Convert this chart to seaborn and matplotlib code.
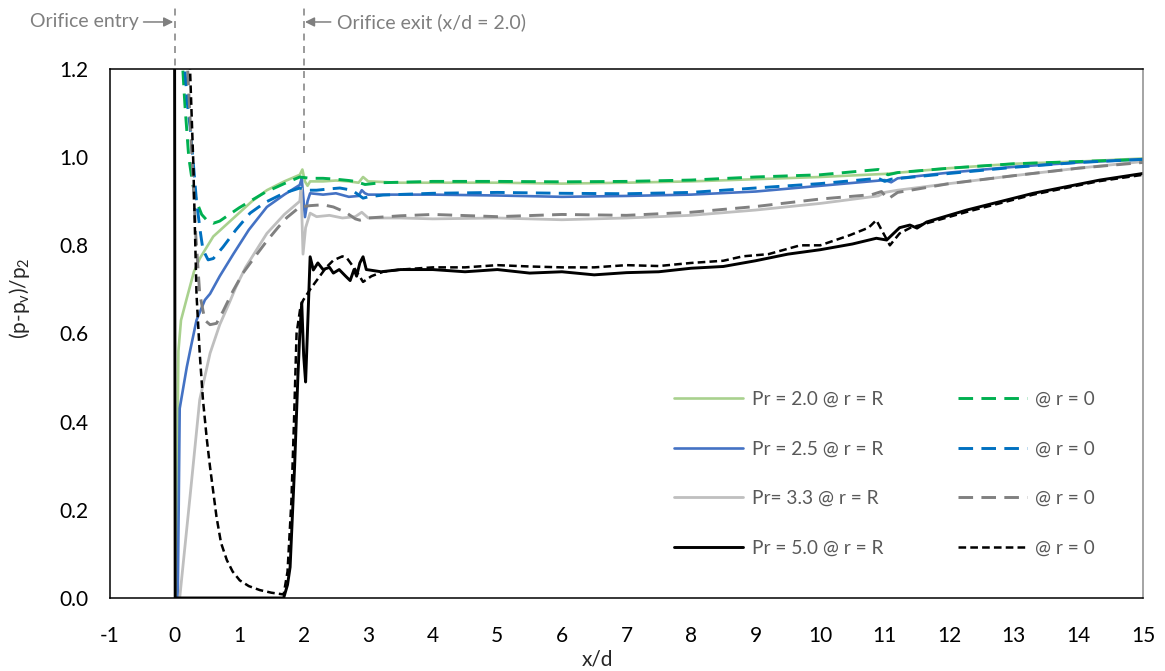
import matplotlib
matplotlib.use("Agg")
import matplotlib.pyplot as plt
import seaborn as sns

sns.set_style("white")
plt.rcParams['font.family'] = ['Lato', 'DejaVu Sans']
plt.rcParams['mathtext.default'] = 'regular'
plt.rcParams['lines.scale_dashes'] = False
plt.rcParams['axes.unicode_minus'] = False

# ---------------- data ----------------
x_g_R = [0.03, 0.05, 0.06, 0.1, 0.19, 0.3, 0.39, 0.6, 0.9, 1.2, 1.43, 1.7, 1.94, 1.98, 2.02, 2.06, 2.1, 2.3, 2.5, 2.7, 2.85, 2.92, 3.0, 3.5, 4, 5, 6, 7, 8, 9, 10, 11, 12, 13, 14, 15]
y_g_R = [0.0, 0.43, 0.56, 0.63, 0.68, 0.74, 0.77, 0.82, 0.86, 0.9, 0.925, 0.945, 0.96, 0.972, 0.945, 0.935, 0.945, 0.945, 0.947, 0.945, 0.942, 0.955, 0.945, 0.942, 0.942, 0.942, 0.94, 0.942, 0.945, 0.95, 0.955, 0.962, 0.975, 0.985, 0.99, 0.997]

x_g_0 = [0.09, 0.12, 0.16, 0.22, 0.28, 0.34, 0.42, 0.5, 0.6, 0.7, 0.85, 1.0, 1.17, 1.4, 1.7, 1.94, 2.1, 2.3, 2.5, 2.7, 2.8, 2.95, 3.2, 4, 5, 6, 7, 8, 9, 10, 10.9, 11.05, 11.2, 12, 13, 14, 15]
y_g_0 = [1.3, 1.22, 1.12, 1.0, 0.94, 0.9, 0.87, 0.857, 0.85, 0.855, 0.87, 0.885, 0.9, 0.92, 0.94, 0.955, 0.952, 0.952, 0.95, 0.947, 0.945, 0.938, 0.942, 0.945, 0.945, 0.944, 0.945, 0.948, 0.955, 0.96, 0.972, 0.96, 0.965, 0.975, 0.985, 0.99, 0.995]

x_b_R = [0.05, 0.08, 0.19, 0.24, 0.34, 0.47, 0.55, 0.7, 0.91, 1.15, 1.43, 1.7, 1.94, 1.97, 2.02, 2.06, 2.1, 2.3, 2.5, 2.7, 2.85, 2.9, 2.95, 3.0, 3.5, 4, 5, 6, 7, 8, 9, 10, 11, 11.1, 11.2, 12, 13, 14, 15]
y_b_R = [0.0, 0.43, 0.524, 0.56, 0.63, 0.676, 0.69, 0.73, 0.78, 0.835, 0.887, 0.915, 0.937, 0.952, 0.864, 0.9, 0.918, 0.915, 0.918, 0.91, 0.912, 0.925, 0.918, 0.915, 0.915, 0.915, 0.913, 0.91, 0.912, 0.915, 0.922, 0.935, 0.948, 0.943, 0.952, 0.965, 0.978, 0.988, 0.995]

x_b_0 = [0.13, 0.16, 0.2, 0.24, 0.3, 0.34, 0.4, 0.44, 0.52, 0.6, 0.75, 0.95, 1.17, 1.4, 1.69, 1.94, 2.05, 2.2, 2.4, 2.56, 2.75, 2.92, 3.0, 3.23, 4, 5, 6, 7, 8, 9, 10, 10.9, 11.0, 11.1, 12, 13, 14, 15]
y_b_0 = [1.35, 1.2, 1.12, 1.07, 0.97, 0.9, 0.83, 0.79, 0.767, 0.77, 0.796, 0.835, 0.873, 0.897, 0.918, 0.93, 0.925, 0.925, 0.928, 0.93, 0.925, 0.907, 0.91, 0.914, 0.918, 0.92, 0.918, 0.917, 0.92, 0.93, 0.94, 0.952, 0.945, 0.95, 0.963, 0.977, 0.988, 0.995]

x_s_R = [0.08, 0.24, 0.39, 0.55, 0.7, 0.85, 0.95, 1.1, 1.43, 1.7, 1.94, 1.96, 1.99, 2.03, 2.1, 2.2, 2.4, 2.6, 2.8, 2.9, 3.0, 3.5, 4, 5, 6, 7, 8, 9, 10, 10.9, 11.0, 11.2, 12, 13, 14, 15]
y_s_R = [0.0, 0.23, 0.45, 0.555, 0.62, 0.67, 0.705, 0.75, 0.827, 0.87, 0.9, 0.93, 0.78, 0.84, 0.873, 0.865, 0.868, 0.862, 0.865, 0.875, 0.862, 0.862, 0.86, 0.862, 0.858, 0.862, 0.868, 0.88, 0.895, 0.912, 0.92, 0.925, 0.94, 0.958, 0.975, 0.99]

x_s_0 = [0.17, 0.22, 0.28, 0.33, 0.39, 0.47, 0.55, 0.65, 0.75, 0.9, 1.06, 1.25, 1.43, 1.6, 1.74, 1.94, 2.1, 2.3, 2.46, 2.65, 2.8, 2.87, 3.0, 3.5, 4, 5, 6, 7, 8, 9, 10, 10.8, 10.95, 11.05, 11.2, 12, 13, 14, 15]
y_s_0 = [1.3, 1.15, 0.97, 0.82, 0.69, 0.63, 0.62, 0.623, 0.65, 0.695, 0.737, 0.775, 0.81, 0.84, 0.863, 0.887, 0.89, 0.892, 0.887, 0.875, 0.86, 0.857, 0.862, 0.867, 0.87, 0.865, 0.87, 0.868, 0.875, 0.888, 0.905, 0.915, 0.922, 0.905, 0.92, 0.94, 0.958, 0.975, 0.988]

x_k_R = [0.0, 0.01, 1.69, 1.75, 1.79, 1.86, 1.91, 1.94, 1.97, 2.0, 2.03, 2.07, 2.1, 2.15, 2.22, 2.3, 2.4, 2.46, 2.55, 2.65, 2.72, 2.78, 2.82, 2.87, 2.92, 2.97, 3.02, 3.2, 3.5, 4, 4.5, 5, 5.5, 6, 6.5, 7, 7.5, 8, 8.5, 9, 9.5, 10, 10.5, 10.87, 11.03, 11.23, 11.39, 11.5, 11.65, 12.27, 13.3, 14.33, 15]
y_k_R = [1.35, 0.0, 0.0, 0.03, 0.07, 0.3, 0.5, 0.6, 0.67, 0.55, 0.49, 0.65, 0.774, 0.744, 0.76, 0.745, 0.75, 0.737, 0.745, 0.73, 0.72, 0.745, 0.73, 0.76, 0.774, 0.745, 0.744, 0.74, 0.745, 0.745, 0.74, 0.745, 0.737, 0.74, 0.733, 0.738, 0.74, 0.748, 0.752, 0.765, 0.78, 0.79, 0.803, 0.816, 0.812, 0.84, 0.846, 0.839, 0.853, 0.88, 0.918, 0.948, 0.963]

x_k_0 = [0.2, 0.24, 0.29, 0.34, 0.39, 0.44, 0.5, 0.55, 0.65, 0.72, 0.81, 0.9, 1.01, 1.15, 1.32, 1.5, 1.69, 1.75, 1.81, 1.85, 1.89, 1.95, 1.99, 2.1, 2.2, 2.35, 2.46, 2.6, 2.67, 2.8, 2.92, 3.05, 3.23, 3.5, 4, 4.5, 5, 5.5, 6, 6.5, 7, 7.5, 8, 8.5, 8.8, 9.2, 9.69, 10, 10.46, 10.75, 10.87, 11.08, 11.23, 11.4, 11.65, 12.3, 13.3, 14.3, 15]
y_k_0 = [1.35, 1.2, 0.99, 0.69, 0.555, 0.45, 0.36, 0.297, 0.184, 0.125, 0.086, 0.06, 0.04, 0.027, 0.018, 0.012, 0.008, 0.06, 0.22, 0.4, 0.6, 0.66, 0.675, 0.7, 0.72, 0.75, 0.766, 0.775, 0.771, 0.745, 0.717, 0.73, 0.74, 0.745, 0.75, 0.75, 0.755, 0.752, 0.75, 0.75, 0.755, 0.753, 0.76, 0.765, 0.775, 0.78, 0.8, 0.8, 0.823, 0.84, 0.857, 0.8, 0.827, 0.84, 0.85, 0.877, 0.915, 0.945, 0.96]

labels_R = ["Pr = 2.0 @ r = R", "Pr = 2.5 @ r = R", "Pr= 3.3 @ r = R", "Pr = 5.0 @ r = R"]
label_0 = "@ r = 0"
x_ticks = list(range(-1, 16))
y_ticks = [0.0, 0.2, 0.4, 0.6, 0.8, 1.0, 1.2]

# ---------------- figure ----------------
fig = plt.figure(figsize=(11.65, 6.71), dpi=100)
ax = fig.add_axes([0.0944, 0.1088, 0.8867, 0.7884])

gray_txt = "#7F7F7F"
long_dash = (0, (10.5, 6))

solid = [(x_g_R, y_g_R, "#A9D18E", 1.9), (x_b_R, y_b_R, "#4472C4", 1.9),
         (x_s_R, y_s_R, "#BFBFBF", 2.0), (x_k_R, y_k_R, "#000000", 2.1)]
dashed = [(x_g_0, y_g_0, "#00B050", 2.1, long_dash), (x_b_0, y_b_0, "#0070C0", 2.1, long_dash),
          (x_s_0, y_s_0, "#808080", 2.1, long_dash), (x_k_0, y_k_0, "#000000", 1.8, (0, (5.5, 3)))]

for (xs, ys, c, lw), lab in zip(solid, labels_R):
    sns.lineplot(x=xs, y=ys, color=c, linewidth=lw, estimator=None, sort=False,
                 ax=ax, label=lab)
for xs, ys, c, lw, ls in dashed:
    sns.lineplot(x=xs, y=ys, color=c, linewidth=lw, linestyle=ls, estimator=None,
                 sort=False, ax=ax, label=label_0)

ax.set_xlim(-1, 15)
ax.set_ylim(0, 1.2)
ax.set_xticks(x_ticks)
ax.set_yticks(y_ticks)
ax.set_yticklabels([f"{v:.1f}" for v in y_ticks])
ax.tick_params(length=0, labelsize=15, colors="#000000")
ax.tick_params(axis="x", pad=20)
ax.tick_params(axis="y", pad=15.5)

for s in ["top", "left", "bottom"]:
    ax.spines[s].set_color("#000000")
    ax.spines[s].set_linewidth(1.1)
ax.spines["right"].set_color("#8C8C8C")
ax.spines["right"].set_linewidth(1.1)

ax.set_xlabel("x/d", fontsize=15, color="#262626")
ax.set_ylabel("(p-p$_v$)/p$_2$", fontsize=15, color="#262626")
ax.xaxis.set_label_coords(0.472, -0.098)
ax.yaxis.set_label_coords(-0.0755, 0.567)

# orifice markers
for xv in [0, 2]:
    ax.plot([xv, xv], [1.01, 1.345], color=gray_txt, lw=1.1,
            linestyle=(0, (5, 4)), clip_on=False, zorder=1)

tr = ax.get_xaxis_transform()
yfa = (598 - 22) / 529
ax.annotate("", xy=(-0.02, yfa), xytext=(-0.48, yfa), xycoords=tr, textcoords=tr,
            arrowprops=dict(arrowstyle="-|>", color=gray_txt, lw=1.1, mutation_scale=14,
                            shrinkA=0, shrinkB=0))
ax.text(-0.56, yfa, "Orifice entry", transform=tr, ha="right", va="center",
        fontsize=14, color=gray_txt)
ax.annotate("", xy=(2.02, yfa), xytext=(2.42, yfa), xycoords=tr, textcoords=tr,
            arrowprops=dict(arrowstyle="-|>", color=gray_txt, lw=1.1, mutation_scale=14,
                            shrinkA=0, shrinkB=0))
ax.text(2.51, yfa, "Orifice exit (x/d = 2.0)", transform=tr, ha="left", va="center",
        fontsize=14, color=gray_txt)

leg = ax.legend(ncol=2, frameon=False, loc="upper left",
                bbox_to_anchor=(0.546, 0.392), fontsize=13.8,
                handlelength=3.6, handletextpad=0.45, labelspacing=1.71,
                columnspacing=3.9, borderpad=0, borderaxespad=0)
for t in leg.get_texts():
    t.set_color("#595959")

fig.savefig("out.png", dpi=100)
